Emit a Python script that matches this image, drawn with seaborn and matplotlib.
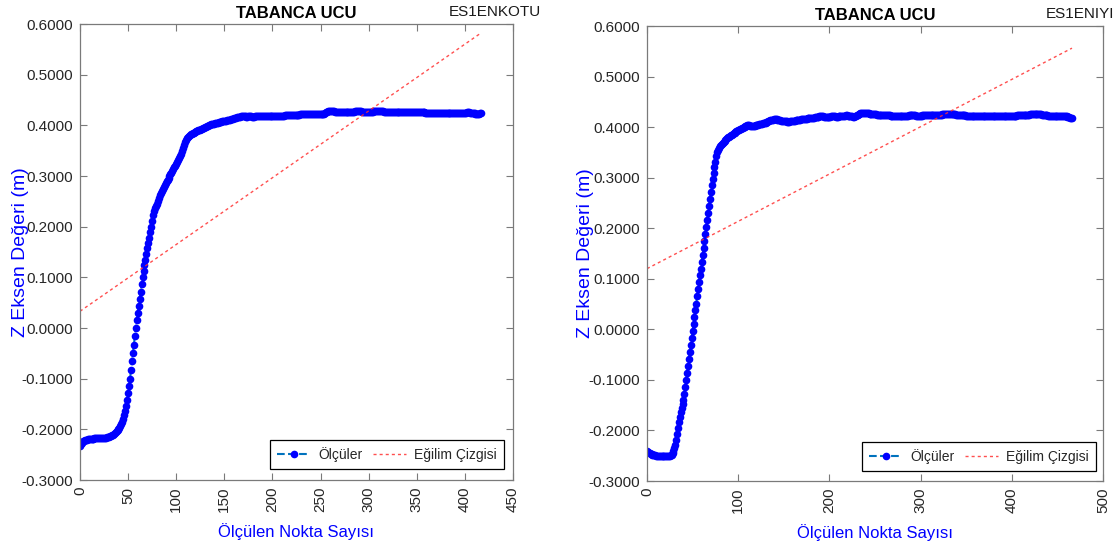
import numpy as np
import matplotlib
matplotlib.use("Agg")
import matplotlib.pyplot as plt
from matplotlib.ticker import FormatStrFormatter, MultipleLocator
import seaborn as sns

# Z-axis readings of the gun tip, one value per measured point (mm)
z_left_mm = [
    -232, -229, -226, -224, -223, -222, -221, -221, -220, -220,
    -220, -219, -219, -219, -219, -218, -218, -218, -218, -218,
    -218, -218, -217, -217, -217, -217, -217, -217, -216, -216,
    -215, -214, -213, -212, -211, -210, -208, -206, -204, -202,
    -200, -197, -194, -190, -185, -179, -172, -164, -154, -142,
    -129, -115, -100, -83, -66, -49, -33, -16, 0, 15,
    30, 44, 58, 72, 86, 100, 112, 124, 135, 146,
    157, 167, 178, 189, 200, 212, 223, 231, 237, 241,
    245, 250, 256, 263, 267, 271, 275, 279, 283, 287,
    290, 293, 297, 300, 303, 306, 310, 313, 317, 320,
    324, 328, 332, 336, 339, 344, 350, 356, 362, 368,
    372, 375, 377, 379, 380, 382, 383, 384, 385, 386,
    387, 388, 389, 390, 391, 391, 392, 393, 394, 395,
    396, 397, 398, 399, 400, 401, 402, 402, 403, 403,
    404, 404, 405, 405, 406, 406, 407, 407, 408, 408,
    408, 409, 409, 410, 410, 411, 411, 412, 412, 413,
    414, 414, 415, 416, 416, 417, 417, 418, 418, 418,
    419, 418, 418, 417, 417, 418, 418, 418, 418, 417,
    417, 417, 418, 418, 418, 418, 419, 419, 418, 418,
    418, 418, 418, 419, 419, 419, 418, 418, 418, 418,
    418, 418, 418, 418, 418, 418, 418, 419, 419, 419,
    419, 419, 419, 420, 420, 420, 420, 420, 420, 420,
    420, 421, 421, 421, 421, 421, 421, 421, 421, 422,
    422, 422, 422, 422, 422, 422, 423, 423, 422, 422,
    422, 422, 423, 423, 423, 423, 423, 423, 423, 423,
    422, 422, 422, 422, 423, 424, 426, 427, 428, 428,
    428, 428, 428, 428, 428, 427, 427, 427, 427, 427,
    427, 427, 427, 427, 427, 427, 427, 427, 427, 427,
    427, 427, 427, 427, 427, 427, 428, 428, 428, 428,
    428, 428, 428, 427, 427, 427, 427, 427, 427, 427,
    427, 427, 427, 427, 427, 428, 428, 428, 428, 428,
    428, 428, 428, 428, 428, 428, 427, 427, 427, 427,
    427, 427, 427, 427, 427, 427, 427, 427, 427, 427,
    426, 426, 426, 426, 426, 426, 426, 426, 426, 426,
    426, 426, 426, 426, 426, 426, 426, 426, 427, 427,
    427, 426, 426, 426, 426, 426, 426, 426, 426, 425,
    425, 425, 425, 425, 425, 425, 424, 424, 424, 424,
    424, 424, 424, 424, 424, 424, 424, 424, 424, 424,
    424, 424, 424, 425, 425, 425, 425, 425, 425, 425,
    425, 425, 425, 425, 425, 425, 425, 425, 425, 425,
    425, 425, 426, 426, 426, 425, 425, 425, 425, 424,
    424, 423, 423, 423, 423, 423, 424, 424,
]

z_right_mm = [
    -241, -243, -244, -245, -246, -247, -248, -248, -249, -249,
    -250, -250, -250, -251, -251, -251, -251, -251, -250, -250,
    -250, -250, -251, -251, -250, -250, -249, -248, -245, -241,
    -235, -228, -219, -207, -195, -183, -173, -163, -155, -148,
    -140, -128, -114, -100, -86, -72, -58, -45, -31, -17,
    -4, 10, 24, 38, 51, 65, 79, 93, 107, 120,
    134, 148, 161, 175, 189, 203, 216, 230, 244, 258,
    271, 285, 298, 310, 321, 331, 343, 350, 355, 359,
    362, 364, 366, 368, 370, 372, 374, 376, 378, 380,
    381, 382, 384, 385, 386, 388, 389, 390, 392, 393,
    394, 395, 396, 397, 398, 399, 400, 401, 402, 403,
    404, 404, 404, 403, 403, 402, 402, 402, 403, 404,
    404, 405, 405, 406, 406, 407, 407, 408, 408, 409,
    409, 410, 411, 412, 413, 414, 414, 415, 415, 416,
    416, 416, 416, 415, 415, 414, 414, 413, 413, 413,
    412, 412, 412, 412, 411, 411, 411, 412, 412, 412,
    413, 413, 413, 414, 414, 414, 415, 415, 415, 416,
    416, 416, 416, 417, 417, 417, 418, 418, 418, 418,
    419, 419, 419, 419, 420, 420, 420, 420, 420, 421,
    421, 421, 421, 421, 420, 420, 420, 420, 420, 420,
    420, 420, 421, 421, 421, 421, 421, 420, 420, 420,
    421, 421, 421, 422, 422, 422, 422, 422, 423, 423,
    422, 421, 421, 421, 421, 421, 420, 420, 421, 422,
    423, 424, 425, 426, 427, 427, 428, 428, 428, 428,
    428, 427, 427, 427, 426, 426, 426, 425, 425, 425,
    425, 425, 424, 424, 424, 424, 424, 424, 424, 423,
    423, 423, 423, 423, 423, 423, 423, 422, 422, 422,
    422, 422, 422, 422, 422, 422, 422, 422, 422, 422,
    422, 422, 422, 422, 422, 422, 422, 423, 423, 423,
    423, 423, 423, 423, 423, 422, 422, 422, 422, 422,
    422, 422, 423, 423, 423, 423, 423, 423, 423, 423,
    423, 424, 424, 424, 424, 424, 424, 424, 424, 424,
    424, 424, 424, 424, 425, 425, 425, 425, 425, 425,
    425, 425, 425, 425, 425, 425, 425, 425, 425, 424,
    424, 424, 424, 424, 423, 423, 423, 423, 423, 423,
    422, 422, 422, 422, 422, 422, 422, 421, 421, 421,
    421, 421, 421, 421, 421, 421, 421, 421, 421, 421,
    421, 421, 421, 421, 421, 421, 421, 421, 421, 421,
    421, 421, 421, 421, 421, 422, 422, 422, 422, 422,
    422, 422, 422, 422, 422, 422, 422, 422, 422, 422,
    422, 422, 422, 422, 422, 422, 423, 423, 423, 423,
    423, 423, 423, 423, 424, 424, 424, 424, 424, 424,
    425, 425, 425, 425, 425, 425, 425, 425, 425, 425,
    425, 425, 425, 424, 424, 424, 423, 423, 423, 423,
    422, 422, 422, 422, 422, 422, 422, 422, 422, 422,
    422, 422, 422, 422, 422, 422, 422, 421, 421, 421,
    421, 420, 420, 420, 419, 419, 418,
]

# Trend line (Eğilim Çizgisi) of each run: intercept (m) and slope (m per point)
trend_intercept = [0.033, 0.120]
trend_slope = [0.001318, 0.000936]

panel_titles = ["TABANCA UCU", "TABANCA UCU"]
run_names = ["ES1ENKOTU", "ES1ENIYI"]
x_max = [450, 500]
x_step = [50, 100]

sns.set_style("ticks")
plt.rcParams["font.family"] = ["Liberation Sans Narrow", "Liberation Sans", "DejaVu Sans"]

W, H = 1118, 549
fig = plt.figure(figsize=(W / 100, H / 100), dpi=100)
fig.patch.set_facecolor("white")

# axes boxes in pixels: left, top, right, bottom
boxes = [(80, 24, 513, 480), (647, 26, 1103, 481)]
ylabel_right_edge = [29, 594]
legend_anchor = [(0.979, 0.024), (0.985, 0.022)]
name_pos = [(541, 12), (1114, 14)]

series = [z_left_mm, z_right_mm]
for i in range(2):
    l, t, r, b = boxes[i]
    ax = fig.add_axes([l / W, 1 - b / H, (r - l) / W, (b - t) / H])
    z = np.array(series[i]) / 1000.0
    n = np.arange(len(z))

    sns.lineplot(x=n, y=z, ax=ax, sort=False, estimator=None,
                 color="#0072BD", linestyle="--", linewidth=1.5,
                 marker="o", markersize=5.5, markerfacecolor="#0000FF",
                 markeredgecolor="#0000FF", markeredgewidth=0,
                 label="Ölçüler")

    xe = np.array([n[0], n[-1]])
    ye = trend_intercept[i] + trend_slope[i] * xe
    sns.lineplot(x=xe, y=ye, ax=ax, color="#FF3030", linewidth=1.0,
                 label="Eğilim Çizgisi")
    ax.lines[-1].set_linestyle((0, (2.2, 2.2)))
    ax.lines[-1].set_alpha(0.85)

    ax.set_xlim(0, x_max[i])
    ax.set_ylim(-0.3, 0.6)
    ax.xaxis.set_major_locator(MultipleLocator(x_step[i]))
    ax.yaxis.set_major_locator(MultipleLocator(0.1))
    ax.yaxis.set_major_formatter(FormatStrFormatter("%.4f"))
    ax.tick_params(direction="in", top=True, right=True, length=5,
                   width=0.8, color="#7a7a7a", labelsize=11,
                   labelcolor="#262626", pad=5)
    for lab in ax.get_xticklabels():
        lab.set_rotation(90)
    for sp in ax.spines.values():
        sp.set_color("#7a7a7a")
        sp.set_linewidth(0.9)

    ax.set_title(panel_titles[i], fontsize=12, fontweight="bold",
                 color="black", pad=4)
    ax.set_xlabel("Ölçülen Nokta Sayısı", fontsize=12, color="#0000FF")
    ax.set_ylabel("Z Eksen Değeri (m)", fontsize=14, color="#0000FF")
    ax.xaxis.set_label_coords(0.5, -0.094)
    ax.yaxis.set_label_coords((ylabel_right_edge[i] - l) / (r - l), 0.5)

    leg = ax.legend(loc="lower right", bbox_to_anchor=legend_anchor[i],
                    ncol=2, frameon=True, fancybox=False, framealpha=1,
                    edgecolor="black", fontsize=10, handlelength=2.4,
                    handletextpad=0.6, columnspacing=0.7, borderpad=0.5,
                    borderaxespad=0)
    leg.get_frame().set_linewidth(0.9)

    fig.text(name_pos[i][0] / W, 1 - name_pos[i][1] / H, run_names[i],
             ha="right", va="center", fontsize=11, color="#1a1a1a")

fig.savefig("out.png", dpi=100, facecolor="white")
